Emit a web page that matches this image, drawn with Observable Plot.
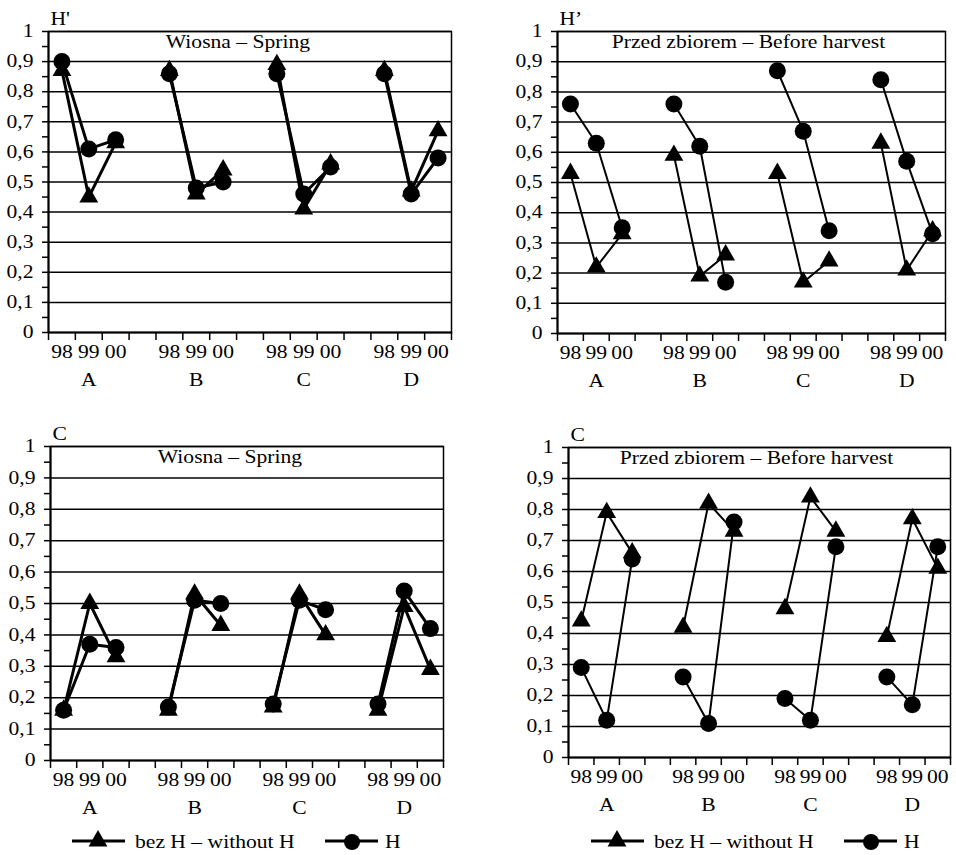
<!DOCTYPE html>
<html><head><meta charset="utf-8">
<script src="https://cdn.jsdelivr.net/npm/d3@7"></script>
<script src="https://cdn.jsdelivr.net/npm/@observablehq/plot@0.6"></script>
<style>
html,body{margin:0;padding:0;background:#fff;}
#fig{position:relative;width:956px;height:855px;background:#fff;overflow:hidden;font-family:'Liberation Serif','Times New Roman','DejaVu Serif',serif;}
#fig svg{position:absolute;}
#fig svg text{font-family:'Liberation Serif','Times New Roman','DejaVu Serif',serif !important;}
</style></head><body><div id="fig"></div>
<script>
// ---- data ----
const groups = ["A", "B", "C", "D"];
const years = ["98", "99", "00"];
const seriesNames = ["bez H – without H", "H"];
const yTickLabels = ["0", "0,1", "0,2", "0,3", "0,4", "0,5", "0,6", "0,7", "0,8", "0,9", "1"];
const panelTitles = ["Wiosna – Spring", "Przed zbiorem – Before harvest", "Wiosna – Spring", "Przed zbiorem – Before harvest"];
const panelYLabels = ["H'", "H’", "C", "C"];

// values ordered A98 A99 A00, B98 ..., D00
const hSpringWithout = [0.87, 0.45, 0.63, 0.87, 0.46, 0.54, 0.89, 0.41, 0.56, 0.87, 0.47, 0.67];
const hSpringH       = [0.90, 0.61, 0.64, 0.86, 0.48, 0.50, 0.86, 0.46, 0.55, 0.86, 0.46, 0.58];
const hHarvestWithout = [0.53, 0.22, 0.33, 0.59, 0.19, 0.26, 0.53, 0.17, 0.24, 0.63, 0.21, 0.34];
const hHarvestH       = [0.76, 0.63, 0.35, 0.76, 0.62, 0.17, 0.87, 0.67, 0.34, 0.84, 0.57, 0.33];
const cSpringWithout = [0.16, 0.50, 0.33, 0.16, 0.53, 0.43, 0.17, 0.53, 0.40, 0.16, 0.49, 0.29];
const cSpringH       = [0.16, 0.37, 0.36, 0.17, 0.51, 0.50, 0.18, 0.51, 0.48, 0.18, 0.54, 0.42];
const cHarvestWithout = [0.44, 0.79, 0.66, 0.42, 0.82, 0.73, 0.48, 0.84, 0.73, 0.39, 0.77, 0.61];
const cHarvestH       = [0.29, 0.12, 0.64, 0.26, 0.11, 0.76, 0.19, 0.12, 0.68, 0.26, 0.17, 0.68];

// ---- helpers ----
const FONT = "'Liberation Serif', 'Times New Roman', 'DejaVu Serif', serif";
const nSlots = groups.length * 4 - 1; // 3 years + gap per group
function toRows(vals, series) {
  return vals.map((v, i) => {
    const g = Math.floor(i / years.length), j = i % years.length;
    return {group: groups[g], year: years[j], slot: g * 4 + j + 0.5, value: v, series};
  });
}
const yearTicks = [];
groups.forEach((g, gi) => years.forEach((y, j) => yearTicks.push({pos: gi * 4 + j + 0.5, label: y})));
const groupCenters = groups.map((g, gi) => ({pos: gi * 4 + 1.5, label: g}));

function stretchText(svg, sx) {
  svg.querySelectorAll("text").forEach(t => {
    const tr = t.getAttribute("transform");
    if (tr) t.setAttribute("transform", tr + ` scale(${sx},1)`);
    else {
      const x = +(t.getAttribute("x") || 0), y = +(t.getAttribute("y") || 0);
      t.setAttribute("x", 0); t.setAttribute("y", 0);
      t.setAttribute("transform", `translate(${x},${y}) scale(${sx},1)`);
    }
  });
}

const panels = [
  {left: 0,   top: 0,   mt: 31, mb: 63, ml: 48, mr: 27, lw: 3, without: hSpringWithout, h: hSpringH, title: panelTitles[0], ylab: panelYLabels[0], tdx: -12},
  {left: 478, top: 0,   mt: 31, mb: 62, ml: 79, mr: 11, lw: 2, without: hHarvestWithout, h: hHarvestH, title: panelTitles[1], ylab: panelYLabels[1], tdx: -3},
  {left: 0,   top: 420, mt: 26, mb: 55, ml: 50, mr: 35, lw: 3, without: cSpringWithout, h: cSpringH, title: panelTitles[2], ylab: panelYLabels[2], tdx: -17},
  {left: 478, top: 420, mt: 27, mb: 58, ml: 90, mr: 6,  lw: 2, without: cHarvestWithout, h: cHarvestH, title: panelTitles[3], ylab: panelYLabels[3], tdx: -3}
];

const fig = document.getElementById("fig");
panels.forEach(p => {
  const rw = toRows(p.without, seriesNames[0]);
  const rh = toRows(p.h, seriesNames[1]);
  const svg = Plot.plot({
    width: 478, height: 395,
    marginTop: p.mt, marginBottom: p.mb, marginLeft: p.ml, marginRight: p.mr,
    style: {fontFamily: FONT, fontSize: "18px", color: "black", background: "white", overflow: "visible"},
    x: {domain: [0, nSlots]},
    y: {domain: [0, 1]},
    marks: [
      Plot.gridY({ticks: d3.range(1, 11).map(i => i / 10), stroke: "black", strokeOpacity: 1, strokeWidth: 1.5}),
      Plot.frame({stroke: "black", strokeWidth: 1.5}),
      Plot.ruleY([0], {stroke: "black", strokeWidth: 2}),
      Plot.ruleX([0], {stroke: "black", strokeWidth: 2}),
      Plot.axisY({ticks: d3.range(0, 21).map(i => i / 20), tickSize: 6, tickPadding: 9, strokeWidth: 1.5, label: null,
        tickFormat: d => { const i = Math.round(d * 20); return i % 2 ? "" : yTickLabels[i / 2]; }}),
      Plot.axisX({ticks: d3.range(0, nSlots + 1), tickSize: 8, strokeWidth: 1.5, label: null, tickFormat: () => ""}),
      Plot.text(yearTicks, {x: "pos", text: "label", frameAnchor: "bottom", lineAnchor: "middle", dy: 20}),
      Plot.text(groupCenters, {x: "pos", text: "label", frameAnchor: "bottom", lineAnchor: "middle", dy: 48}),
      Plot.text([p.ylab], {frameAnchor: "top-left", textAnchor: "start", lineAnchor: "middle", dx: 2, dy: -12, text: d => d}),
      Plot.text([p.title], {frameAnchor: "top", lineAnchor: "middle", dx: p.tdx, dy: 11, text: d => d}),
      Plot.line(rw, {x: "slot", y: "value", z: "group", stroke: "black", strokeWidth: p.lw}),
      Plot.dot(rw, {x: "slot", y: "value", symbol: "triangle", r: 7, fill: "black", stroke: "none"}),
      Plot.line(rh, {x: "slot", y: "value", z: "group", stroke: "black", strokeWidth: p.lw}),
      Plot.dot(rh, {x: "slot", y: "value", symbol: "circle", r: 8.5, fill: "black", stroke: "none"})
    ]
  });
  stretchText(svg, 1.2);
  svg.style.left = p.left + "px";
  svg.style.top = p.top + "px";
  fig.appendChild(svg);
});

// ---- legends ----
const leg = d3.select(fig).append("svg")
  .attr("width", 956).attr("height", 30)
  .style("left", "0px").style("top", "825px")
  .style("font-family", FONT).style("font-size", "18px");
[0, 519].forEach(off => {
  const g = leg.append("g").attr("transform", `translate(${off},0)`);
  g.append("line").attr("x1", 72).attr("x2", 125).attr("y1", 16).attr("y2", 16).attr("stroke", "black").attr("stroke-width", 3);
  g.append("path").attr("d", d3.symbol(d3.symbolTriangle, 154)()).attr("transform", "translate(98,16)").attr("fill", "black");
  g.append("text").attr("transform", "translate(135,23) scale(1.2,1)").text(seriesNames[0]);
  g.append("line").attr("x1", 325).attr("x2", 378).attr("y1", 16).attr("y2", 16).attr("stroke", "black").attr("stroke-width", 3);
  g.append("circle").attr("cx", 352).attr("cy", 17).attr("r", 8).attr("fill", "black");
  g.append("text").attr("transform", "translate(385,23) scale(1.2,1)").text(seriesNames[1]);
});
</script></body></html>
